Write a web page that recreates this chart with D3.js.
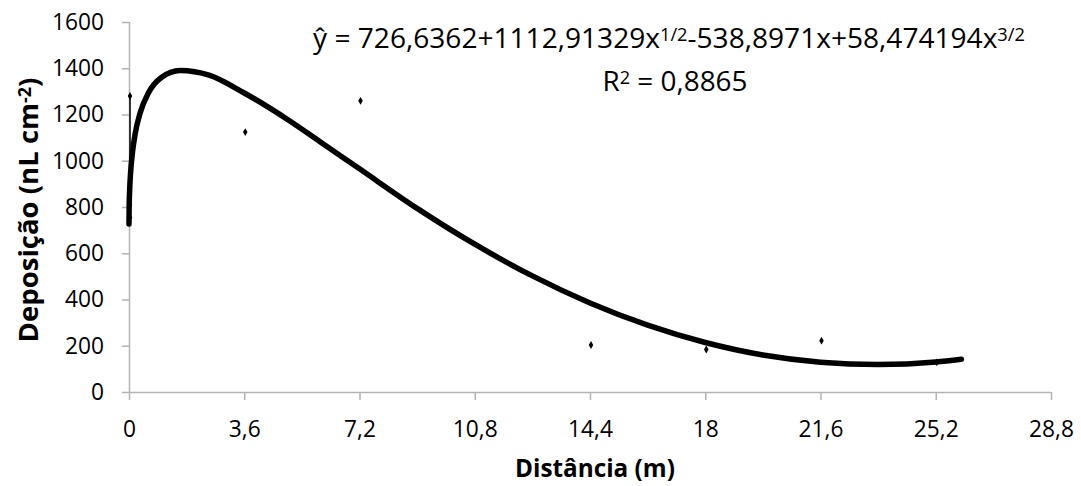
<!DOCTYPE html>
<html>
<head>
<meta charset="utf-8">
<script src="https://cdn.jsdelivr.net/npm/d3@7"></script>
<style>
body { margin: 0; background: #fff; }
text { font-family: "Open Sans", Lato, sans-serif; fill: #000; }
</style>
</head>
<body>
<div id="chart"></div>
<script>
var obsX = [0, 0, 0, 3.6, 7.2, 14.4, 18, 21.6, 25.2];
var obsY = [1280, 810, 755, 1124, 1259, 203, 184, 222, 128];

// fitted curve
var fitX = [0, 0.005, 0.02, 0.05, 0.1, 0.2, 0.35, 0.6, 1, 1.6, 2.5, 3.6, 5, 6, 7.2, 9, 10.8, 12.6, 14.4, 16.2, 18, 19.8, 21.6, 23.4, 25.2, 26];
var fitY = [727, 803, 873, 949, 1026, 1122, 1208, 1292, 1359, 1390, 1370, 1293, 1174, 1079, 965, 794, 639, 502, 385, 289, 214, 160, 129, 119, 130, 142];

var xTicks = [0, 3.6, 7.2, 10.8, 14.4, 18, 21.6, 25.2, 28.8];
var yTicks = [0, 200, 400, 600, 800, 1000, 1200, 1400, 1600];

// scale font so the text is as wide as in the picture
function fitWidth(sel, target) {
    var fs = parseFloat(sel.style("font-size"));
    var len = sel.node().getComputedTextLength();
    sel.style("font-size", (fs * target / len) + "px");
}

function svgChartCreate() {
    var w = 1081, h = 486;
    var margin = { top: 22, left: 129 };
    var iw = 1051 - margin.left;
    var ih = 392 - margin.top;

    var svg = d3.select("#chart").append("svg")
        .attr("width", w)
        .attr("height", h);

    // tick label size
    var probe = svg.append("text").style("font-size", "20px").text("1600");
    fitWidth(probe, 52);
    var tickFs = probe.style("font-size");
    probe.remove();

    var g = svg.append("g")
        .attr("transform", "translate(" + margin.left + "," + margin.top + ")");

    var xScale = d3.scaleLinear().domain([0, 28.8]).range([0, iw]);
    var yScale = d3.scaleLinear().domain([0, 1600]).range([ih, 0]);

    var fmt = function (d) { return String(d).replace(".", ","); };

    // axes
    var xAxis = d3.axisBottom(xScale).tickValues(xTicks).tickSize(8).tickPadding(21).tickFormat(fmt);
    var yAxis = d3.axisLeft(yScale).tickValues(yTicks).tickSize(7).tickPadding(18).tickFormat(fmt);

    var gx = g.append("g").attr("transform", "translate(0," + ih + ")").call(xAxis);
    var gy = g.append("g").call(yAxis);

    [gx, gy].forEach(function (a) {
        a.select(".domain").attr("stroke", "#b3b3b3").attr("stroke-width", 1.5);
        a.selectAll(".tick line").attr("stroke", "#b3b3b3").attr("stroke-width", 1.5);
        a.selectAll(".tick text")
            .style("font-size", tickFs)
            .style("font-family", "'Open Sans', sans-serif");
    });
    gx.select(".domain").attr("d", "M0,0.5H" + iw);
    gy.select(".domain").attr("d", "M0.5," + ih + "V0");

    // fitted curve
    var line = d3.line()
        .x(function (d, i) { return xScale(fitX[i]); })
        .y(function (d) { return yScale(d); })
        .curve(d3.curveMonotoneX);

    g.append("path")
        .datum(fitY)
        .attr("d", line)
        .attr("fill", "none")
        .attr("stroke", "#000")
        .attr("stroke-width", 5.5)
        .attr("stroke-linecap", "round");

    // thin line joining the observations at x = 0
    g.append("line")
        .attr("x1", xScale(0) + 1).attr("x2", xScale(0) + 1)
        .attr("y1", yScale(obsY[0])).attr("y2", yScale(obsY[1]))
        .attr("stroke", "#000").attr("stroke-width", 1.5);

    // observed markers
    var diamond = d3.symbol().type(d3.symbolDiamond).size(18);
    g.selectAll(".obs")
        .data(obsY)
        .enter()
        .append("path")
        .attr("class", "obs")
        .attr("d", diamond)
        .attr("transform", function (d, i) {
            return "translate(" + (xScale(obsX[i]) + 1) + "," + yScale(d) + ")";
        })
        .attr("fill", "#000");

    // equation
    var eq = svg.append("text")
        .attr("x", 669).attr("y", 48)
        .attr("text-anchor", "middle")
        .style("font-size", "23px");
    eq.append("tspan").text("ŷ = 726,6362+1112,91329x");
    eq.append("tspan").attr("dy", "-0.38em").style("font-size", "0.65em").text("1/2");
    eq.append("tspan").attr("dy", "0.25em").text("-538,8971x+58,474194x");
    eq.append("tspan").attr("dy", "-0.38em").style("font-size", "0.65em").text("3/2");
    fitWidth(eq, 712);

    var r2 = svg.append("text")
        .attr("x", 675).attr("y", 91)
        .attr("text-anchor", "middle")
        .style("font-size", "23px");
    r2.append("tspan").text("R");
    r2.append("tspan").attr("dy", "-0.38em").style("font-size", "0.65em").text("2");
    r2.append("tspan").attr("dy", "0.25em").text(" = 0,8865");
    fitWidth(r2, 145);

    // axis titles
    var xt = svg.append("text")
        .attr("x", 595).attr("y", 477)
        .attr("text-anchor", "middle")
        .style("font-size", "22px").style("font-weight", "bold")
        .text("Distância (m)");
    fitWidth(xt, 160);

    var yt = svg.append("text")
        .attr("transform", "translate(38,210) rotate(-90)")
        .attr("text-anchor", "middle")
        .style("font-size", "22px").style("font-weight", "bold");
    yt.append("tspan").text("Deposição (nL cm");
    yt.append("tspan").attr("dy", "-0.38em").style("font-size", "0.65em").text("-2");
    yt.append("tspan").attr("dy", "0.25em").text(")");
    fitWidth(yt, 265);
}

svgChartCreate();
</script>
</body>
</html>
